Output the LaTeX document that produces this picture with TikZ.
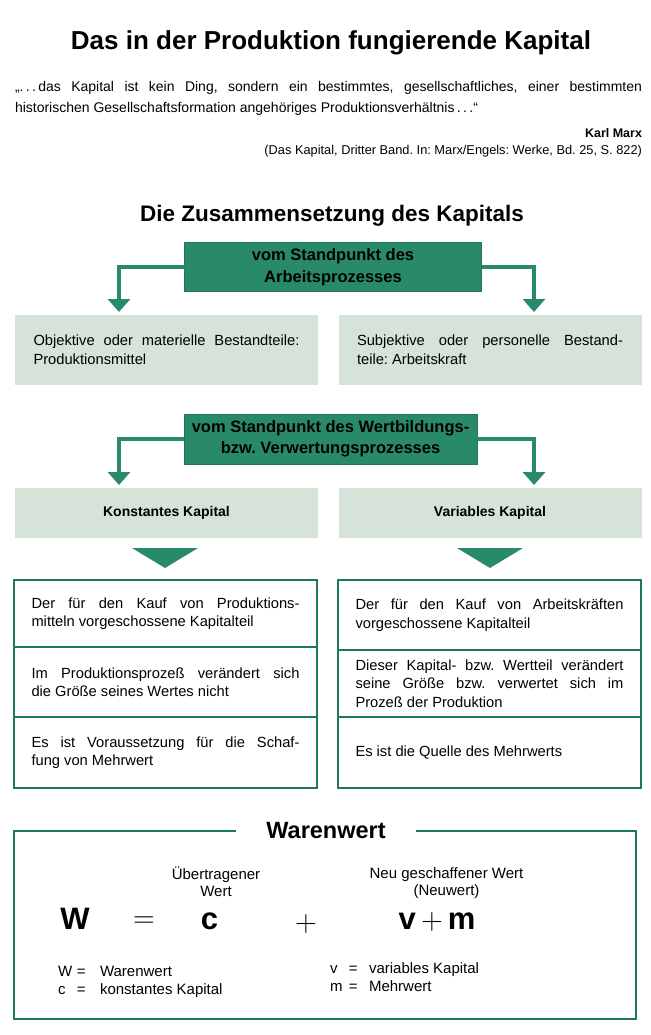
\documentclass[tikz,border=0pt]{standalone}
\usepackage{fontspec}
\usepackage{graphicx}
\setmainfont{Liberation Sans}
\usetikzlibrary{positioning,arrows.meta,calc}

\definecolor{kgreen}{RGB}{40,138,106}
\definecolor{klight}{RGB}{213,227,217}
\definecolor{kline}{RGB}{28,122,90}

\newcommand{\bigop}[1]{\scalebox{1.45}{$#1$}}
\frenchspacing

\begin{document}
\begin{tikzpicture}[x=1pt,y=-1pt,
    every node/.style={inner sep=0pt, outer sep=0pt},
    stdbox/.style={draw=kgreen!85!black, fill=kgreen, line width=1pt, minimum height=49pt, align=center,
        font=\fontsize{16.5}{21.5}\selectfont\bfseries},
    partbox/.style={fill=klight, minimum height=70pt, minimum width=303pt, text width=266pt, align=justify,
        font=\fontsize{14.7}{19}\selectfont},
    kapbox/.style={fill=klight, minimum height=50pt, minimum width=303pt, font=\fontsize{14}{16}\selectfont\bfseries},
    cell/.style={draw=kline, line width=2.4pt, minimum width=303pt, text width=268pt, align=justify,
        font=\fontsize{14.7}{18.5}\selectfont},
    conn/.style={kgreen, line width=4.5pt, -{Triangle[width=22pt,length=13pt]}},
    big/.style={anchor=base, font=\fontsize{31}{31}\selectfont\bfseries},
    op/.style={anchor=base, font=\fontsize{20.74}{20.74}\selectfont},
    legend/.style={anchor=base west, font=\fontsize{15}{17}\selectfont}
]
    \useasboundingbox (0,0) rectangle (650,1035);

    % Title and quotation
    \node (title) at (331,43) {\fontsize{26}{30}\selectfont\bfseries Das in der Produktion fungierende Kapital};
    \node[text width=627pt, align=justify, font=\fontsize{14}{21}\selectfont] (quote) at (328.5,98)
        {„.\,.\,.\,das Kapital ist kein Ding, sondern ein bestimmtes, gesellschaftliches, einer bestimmten\linebreak
         historischen Gesellschaftsformation angehöriges Produktionsverhältnis\,.\,.\,.“};
    \node[anchor=east, font=\fontsize{12.5}{14}\selectfont\bfseries] (author) at (642,133) {Karl Marx};
    \node[anchor=east, font=\fontsize{12.8}{15}\selectfont] (source) at (642,151)
        {(Das Kapital, Dritter Band. In: Marx/Engels: Werke, Bd. 25, S. 822)};

    \node (head) at (332,216) {\fontsize{22.5}{27}\selectfont\bfseries Die Zusammensetzung des Kapitals};

    % Arbeitsprozess
    \node[stdbox, minimum width=297pt] (std1) at (333,267) {vom Standpunkt des\\Arbeitsprozesses};
    \node[partbox] (obj) at (166.5,350) {Objektive oder materielle Bestandteile:\linebreak Produktionsmittel};
    \node[partbox] (subj) at (490,350) {Subjektive oder personelle Bestand-\linebreak teile: Arbeitskraft};
    \draw[conn] (std1.west) -| ([xshift=-47.5pt,yshift=3pt]obj.north);
    \draw[conn] (std1.east) -| ([xshift=44pt,yshift=3pt]subj.north);

    % Wertbildungs- bzw. Verwertungsprozess
    \node[stdbox, minimum width=293pt, minimum height=50pt] (std2) at (330.5,439)
        {vom Standpunkt des Wertbildungs-\\bzw. Verwertungsprozesses};
    \node[kapbox] (konst) at (166.5,513) {Konstantes Kapital};
    \node[kapbox] (var) at (490,513) {Variables Kapital};
    \draw[conn] (std2.west) -| ([xshift=-47.5pt,yshift=3pt]konst.north);
    \draw[conn] (std2.east) -| ([xshift=44pt,yshift=3pt]var.north);

    % big arrowheads
    \fill[kgreen] (132,548) -- (198,548) -- (165,568) -- cycle;
    \fill[kgreen] (457,548) -- (523,548) -- (490,568) -- cycle;

    % Eigenschaften
    \node[cell, minimum height=67pt] (k1) at (165.5,613.5)
        {Der für den Kauf von Produktions-\linebreak mitteln vorgeschossene Kapitalteil};
    \node[cell, minimum height=70pt, below=0pt of k1] (k2)
        {Im Produktionsprozeß verändert sich\linebreak die Größe seines Wertes nicht};
    \node[cell, minimum height=71pt, below=0pt of k2] (k3)
        {Es ist Voraussetzung für die Schaf-\linebreak fung von Mehrwert};
    \node[cell, minimum height=70pt] (v1) at (489.5,615)
        {Der für den Kauf von Arbeitskräften\linebreak vorgeschossene Kapitalteil};
    \node[cell, minimum height=67pt, below=0pt of v1] (v2)
        {Dieser Kapital- bzw. Wertteil verändert\linebreak seine Größe bzw. verwertet sich im\linebreak Prozeß der Produktion};
    \node[cell, minimum height=71pt, below=0pt of v2] (v3)
        {Es ist die Quelle des Mehrwerts};

    % Warenwert
    \node[minimum width=180pt] (ww) at (326,831) {\fontsize{23.5}{27}\selectfont\bfseries Warenwert};
    \draw[kline, line width=2.4pt] (ww.west) -| (14,1019) -| (636,831) -- (ww.east);

    \node[align=center, font=\fontsize{15}{17}\selectfont] (uew) at (216,882) {Übertragener\\Wert};
    \node[align=center, font=\fontsize{15}{17}\selectfont] (neu) at (446.5,883) {Neu geschaffener Wert\\(Neuwert)};

    \node[big] (W) at (75,929) {W};
    \node[op] (eq) at (144,927) {\bigop{=}};
    \node[big] (c) at (209.5,929) {c};
    \node[op] (plus) at (306,931) {\bigop{+}};
    \node[big] (vm) at (437,929) {v\,{\fontsize{20.74}{20.74}\selectfont\bigop{+}}\,m};

    \node[legend] (lw) at (58,976) {\makebox[19pt][l]{W}\makebox[23pt][l]{=}Warenwert};
    \node[legend] (lc) at (58,994) {\makebox[19pt][l]{c}\makebox[23pt][l]{=}konstantes Kapital};
    \node[legend] (lv) at (330,973) {\makebox[19pt][l]{v}\makebox[20pt][l]{=}variables Kapital};
    \node[legend] (lm) at (330,991) {\makebox[19pt][l]{m}\makebox[20pt][l]{=}Mehrwert};
\end{tikzpicture}
\end{document}
